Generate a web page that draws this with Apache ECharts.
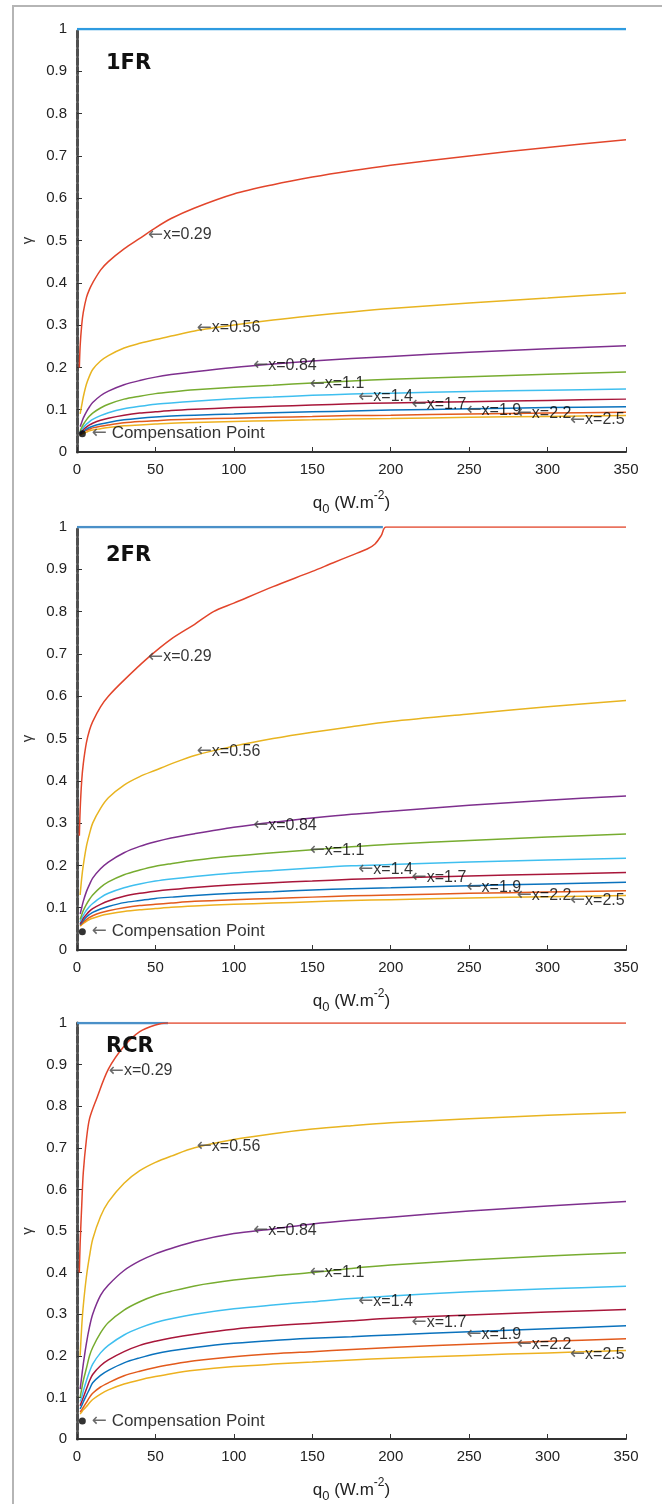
<!DOCTYPE html>
<html><head><meta charset="utf-8">
<script src="https://cdn.jsdelivr.net/npm/echarts@6/dist/echarts.min.js"></script>
<style>html,body{margin:0;padding:0;background:#fff}#c{width:662px;height:1504px}</style>
</head><body><div id="c"></div>
<script>
// ---------- data ----------
const panelNames = ['1FR', '2FR', 'RCR'];
const curveNames = ['x=0.29', 'x=0.56', 'x=0.84', 'x=1.1', 'x=1.4', 'x=1.7', 'x=1.9', 'x=2.2', 'x=2.5'];
const curveColors = ['#e2452b', '#e8b420', '#7e2f8e', '#77ac30', '#3fbfef', '#a8163a', '#0a72bd', '#e25a1c', '#edb120'];
const limitColors = ['#2f9be0', '#4a90c8', '#4a90c8'];
const xTicks = [0, 50, 100, 150, 200, 250, 300, 350];
const yTickLabels = ['0', '0.1', '0.2', '0.3', '0.4', '0.5', '0.6', '0.7', '0.8', '0.9', '1'];
const qPts = [2, 3, 4, 6, 8, 10, 15, 20, 30, 40, 50, 60, 75, 100, 125, 150, 175, 200, 250, 300, 350];

// x=0.29 curves (own q grids)
const q029_1FR = [1.5, 2, 3, 4, 6, 8, 10, 15, 20, 30, 40, 50, 60, 75, 100, 125, 150, 175, 200, 250, 300, 350];
const g029_1FR = [0.2, 0.25, 0.3, 0.33, 0.365, 0.385, 0.40, 0.43, 0.45, 0.48, 0.505, 0.53, 0.552, 0.577, 0.61, 0.632, 0.65, 0.665, 0.678, 0.70, 0.72, 0.738];
const q029_2FR = [1.5, 2, 3, 4, 6, 8, 10, 15, 20, 30, 45, 60, 75, 87, 100, 125, 150, 163, 175, 185, 190, 194, 197, 350];
const g029_2FR = [0.27, 0.33, 0.40, 0.44, 0.49, 0.52, 0.54, 0.575, 0.60, 0.638, 0.69, 0.735, 0.77, 0.80, 0.82, 0.859, 0.895, 0.915, 0.933, 0.948, 0.96, 0.98, 1, 1];
const q029_RCR = [1.5, 2, 3, 4, 6, 8, 12.5, 20, 30, 40, 50, 57, 350];
const g029_RCR = [0.4, 0.47, 0.56, 0.64, 0.72, 0.77, 0.818, 0.889, 0.944, 0.979, 0.995, 1, 1];

// other curves (x=0.56 ... x=2.5) sampled on qPts
const FR1 = [
  [0.09, 0.11, 0.13, 0.16, 0.18, 0.195, 0.215, 0.228, 0.246, 0.257, 0.266, 0.274, 0.286, 0.300, 0.312, 0.322, 0.331, 0.339, 0.352, 0.364, 0.376],
  [0.06, 0.07, 0.08, 0.095, 0.107, 0.117, 0.133, 0.144, 0.159, 0.169, 0.177, 0.183, 0.19, 0.20, 0.208, 0.215, 0.221, 0.226, 0.236, 0.244, 0.251],
  [0.05, 0.058, 0.065, 0.076, 0.085, 0.092, 0.104, 0.113, 0.125, 0.132, 0.138, 0.142, 0.147, 0.153, 0.158, 0.163, 0.168, 0.172, 0.178, 0.184, 0.189],
  [0.047, 0.053, 0.058, 0.066, 0.072, 0.077, 0.086, 0.093, 0.102, 0.108, 0.113, 0.116, 0.12, 0.126, 0.13, 0.134, 0.137, 0.139, 0.143, 0.146, 0.149],
  [0.045, 0.049, 0.053, 0.059, 0.064, 0.068, 0.075, 0.08, 0.087, 0.092, 0.095, 0.098, 0.101, 0.105, 0.108, 0.111, 0.114, 0.116, 0.119, 0.122, 0.125],
  [0.043, 0.046, 0.049, 0.054, 0.058, 0.061, 0.066, 0.07, 0.076, 0.08, 0.083, 0.085, 0.087, 0.09, 0.093, 0.095, 0.097, 0.099, 0.102, 0.105, 0.107],
  [0.041, 0.044, 0.047, 0.051, 0.054, 0.057, 0.061, 0.064, 0.069, 0.072, 0.074, 0.076, 0.078, 0.08, 0.082, 0.084, 0.086, 0.087, 0.09, 0.092, 0.094],
  [0.039, 0.042, 0.044, 0.047, 0.05, 0.052, 0.055, 0.058, 0.062, 0.064, 0.066, 0.068, 0.07, 0.072, 0.074, 0.076, 0.078, 0.079, 0.082, 0.084, 0.086]
];
const FR2 = [
  [0.13, 0.17, 0.2, 0.245, 0.275, 0.3, 0.335, 0.36, 0.39, 0.41, 0.425, 0.44, 0.46, 0.482, 0.5, 0.515, 0.528, 0.54, 0.558, 0.575, 0.59],
  [0.085, 0.1, 0.115, 0.138, 0.155, 0.17, 0.192, 0.208, 0.23, 0.245, 0.256, 0.265, 0.275, 0.29, 0.302, 0.312, 0.321, 0.328, 0.342, 0.354, 0.364],
  [0.072, 0.083, 0.093, 0.108, 0.12, 0.13, 0.148, 0.161, 0.178, 0.189, 0.198, 0.204, 0.212, 0.222, 0.23, 0.237, 0.244, 0.25, 0.259, 0.267, 0.274],
  [0.066, 0.075, 0.082, 0.094, 0.103, 0.11, 0.124, 0.134, 0.147, 0.156, 0.163, 0.168, 0.174, 0.182, 0.188, 0.194, 0.199, 0.202, 0.208, 0.213, 0.217],
  [0.062, 0.069, 0.075, 0.084, 0.092, 0.098, 0.108, 0.116, 0.127, 0.134, 0.139, 0.143, 0.148, 0.154, 0.159, 0.163, 0.167, 0.17, 0.175, 0.179, 0.183],
  [0.06, 0.065, 0.07, 0.078, 0.084, 0.089, 0.097, 0.103, 0.112, 0.117, 0.122, 0.125, 0.129, 0.134, 0.138, 0.142, 0.145, 0.147, 0.152, 0.156, 0.16],
  [0.058, 0.062, 0.066, 0.072, 0.077, 0.081, 0.088, 0.093, 0.1, 0.105, 0.108, 0.111, 0.115, 0.119, 0.122, 0.125, 0.128, 0.13, 0.134, 0.137, 0.14],
  [0.056, 0.06, 0.063, 0.068, 0.072, 0.075, 0.081, 0.085, 0.091, 0.095, 0.098, 0.101, 0.104, 0.108, 0.111, 0.114, 0.117, 0.119, 0.123, 0.126, 0.129]
];
const RCR = [
  [0.2, 0.27, 0.32, 0.39, 0.44, 0.48, 0.535, 0.57, 0.615, 0.645, 0.665, 0.68, 0.70, 0.72, 0.734, 0.745, 0.753, 0.76, 0.77, 0.778, 0.785],
  [0.12, 0.15, 0.18, 0.23, 0.27, 0.30, 0.345, 0.37, 0.405, 0.428, 0.445, 0.458, 0.475, 0.494, 0.505, 0.517, 0.526, 0.533, 0.548, 0.56, 0.571],
  [0.1, 0.12, 0.14, 0.17, 0.2, 0.22, 0.255, 0.28, 0.31, 0.33, 0.345, 0.355, 0.368, 0.382, 0.392, 0.40, 0.41, 0.418, 0.43, 0.44, 0.448],
  [0.09, 0.1, 0.115, 0.14, 0.162, 0.18, 0.207, 0.225, 0.25, 0.267, 0.28, 0.289, 0.30, 0.313, 0.322, 0.33, 0.338, 0.344, 0.354, 0.361, 0.367],
  [0.08, 0.09, 0.1, 0.12, 0.14, 0.155, 0.176, 0.19, 0.21, 0.225, 0.235, 0.243, 0.252, 0.264, 0.272, 0.278, 0.284, 0.29, 0.298, 0.305, 0.311],
  [0.072, 0.08, 0.089, 0.105, 0.12, 0.135, 0.153, 0.165, 0.183, 0.195, 0.205, 0.212, 0.22, 0.23, 0.237, 0.242, 0.246, 0.25, 0.258, 0.265, 0.272],
  [0.065, 0.07, 0.076, 0.088, 0.1, 0.11, 0.125, 0.135, 0.152, 0.163, 0.172, 0.179, 0.188, 0.198, 0.205, 0.21, 0.215, 0.22, 0.228, 0.235, 0.241],
  [0.06, 0.065, 0.07, 0.078, 0.087, 0.095, 0.108, 0.118, 0.132, 0.142, 0.15, 0.157, 0.165, 0.174, 0.18, 0.185, 0.19, 0.194, 0.201, 0.207, 0.213]
];

// curve label anchor points (q, gamma) per panel
const labelQ_1FR = [45, 76, 112, 148, 179, 213, 248, 280, 314];
const labelG_1FR = [0.513, 0.293, 0.205, 0.161, 0.13, 0.113, 0.099, 0.091, 0.076];
const labelQ_2FR = [45, 76, 112, 148, 179, 213, 248, 280, 314];
const labelG_2FR = [0.693, 0.47, 0.295, 0.236, 0.19, 0.171, 0.148, 0.129, 0.117];
const labelQ_RCR = [20, 76, 112, 148, 179, 213, 248, 280, 314];
const labelG_RCR = [0.885, 0.704, 0.501, 0.40, 0.331, 0.281, 0.251, 0.227, 0.203];

const compPoint = [3.4, 0.043];
const limitEnd = [350, 195, 58];

// ---------- layout ----------
const gridTops = [29, 527, 1023];
const titleTops = [48, 540, 1031];
const FONT = "'Liberation Sans', Arial, sans-serif";

const redQ = [q029_1FR, q029_2FR, q029_RCR];
const redG = [g029_1FR, g029_2FR, g029_RCR];
const others = [FR1, FR2, RCR];
const labelQ = [labelQ_1FR, labelQ_2FR, labelQ_RCR];
const labelG = [labelG_1FR, labelG_2FR, labelG_RCR];

const zip = (a, b) => a.map((v, i) => [v, b[i]]);
const arrowRich = {
  ar: { fontFamily: "'DejaVu Sans', sans-serif", fontSize: 18, color: '#444' },
  t: { fontFamily: FONT, fontSize: 16, color: '#000' },
  c: { fontFamily: FONT, fontSize: 17, color: '#000' }
};

const grids = [], xAxes = [], yAxes = [], series = [], titles = [];
for (let p = 0; p < 3; p++) {
  grids.push({ left: 77, width: 549, top: gridTops[p], height: 423, containLabel: false });
  titles.push({ text: panelNames[p], left: 101, top: titleTops[p],
    textStyle: { fontFamily: "'DejaVu Sans', sans-serif", fontWeight: 'bold', fontSize: 21, color: '#111' } });
  xAxes.push({
    gridIndex: p, type: 'value', min: 0, max: 350, interval: 50,
    axisLine: { show: true, onZero: false, lineStyle: { color: '#333', width: 2 } },
    axisTick: { show: true, inside: true, length: 5, lineStyle: { color: '#333', width: 1 } },
    axisLabel: { margin: 10, fontSize: 15, color: '#222', fontFamily: FONT,
      formatter: v => String(xTicks[Math.round(v / 50)]) },
    splitLine: { show: false },
    name: '{a|q}{s|0}{a| (W.m}{p|-2}{a|)}', nameLocation: 'middle', nameGap: 38,
    nameTextStyle: { fontFamily: FONT, color: '#222',
      rich: {
        a: { fontSize: 17, fontFamily: FONT, color: '#222', lineHeight: 26 },
        s: { fontSize: 13, fontFamily: FONT, color: '#222', lineHeight: 13, verticalAlign: 'bottom' },
        p: { fontSize: 12, fontFamily: FONT, color: '#222', lineHeight: 12, verticalAlign: 'top' }
      } }
  });
  yAxes.push({
    gridIndex: p, type: 'value', min: 0, max: 1, interval: 0.1,
    axisLine: { show: true, onZero: false, lineStyle: { color: '#505050', width: 3, type: [7, 2] } },
    axisTick: { show: true, inside: true, length: 5, lineStyle: { color: '#333', width: 1 } },
    axisLabel: { margin: 10, fontSize: 15, color: '#222', fontFamily: FONT,
      formatter: v => yTickLabels[Math.round(v * 10)] },
    splitLine: { show: false },
    name: 'γ', nameLocation: 'middle', nameGap: 40, nameRotate: 90,
    nameTextStyle: { fontSize: 15, color: '#333', fontFamily: FONT }
  });

  // upper limit line at gamma = 1
  series.push({ type: 'line', xAxisIndex: p, yAxisIndex: p, symbol: 'none', silent: true,
    data: [[0, 1], [limitEnd[p], 1]], lineStyle: { color: limitColors[p], width: 2.5 }, z: 2 });
  // other curves
  for (let k = 7; k >= 0; k--) {
    series.push({ type: 'line', xAxisIndex: p, yAxisIndex: p, symbol: 'none', silent: true,
      smooth: 0.3, name: curveNames[k + 1],
      data: zip(qPts, others[p][k]), lineStyle: { color: curveColors[k + 1], width: 1.5 }, z: 3 });
  }
  // x = 0.29 curve
  series.push({ type: 'line', xAxisIndex: p, yAxisIndex: p, symbol: 'none', silent: true,
    smooth: 0.3, name: curveNames[0],
    data: zip(redQ[p], redG[p]), lineStyle: { color: curveColors[0], width: 1.5 }, z: 4 });
  // curve labels
  series.push({ type: 'scatter', xAxisIndex: p, yAxisIndex: p, silent: true, symbolSize: 1,
    itemStyle: { color: 'rgba(0,0,0,0)' }, z: 6,
    data: zip(labelQ[p], labelG[p]),
    label: { show: true, position: 'right', distance: 0, rich: arrowRich,
      formatter: prm => '{ar|←}{t|' + curveNames[prm.dataIndex] + '}' } });
  // compensation point
  series.push({ type: 'scatter', xAxisIndex: p, yAxisIndex: p, silent: true, symbolSize: 7,
    itemStyle: { color: '#000' }, z: 7, data: [compPoint],
    label: { show: true, position: 'right', distance: 6, rich: arrowRich,
      formatter: '{ar|←}{c| Compensation Point}' } });
}

const chart = echarts.init(document.getElementById('c'), null, { renderer: 'canvas' });
chart.setOption({
  animation: false,
  backgroundColor: '#fff',
  title: titles,
  grid: grids, xAxis: xAxes, yAxis: yAxes, series: series,
  graphic: [{ type: 'polyline', silent: true, z: 100,
    shape: { points: [[13, 1504], [13, 6], [662, 6]] },
    style: { stroke: '#b5b5b5', lineWidth: 2, fill: null } }]
});
</script></body></html>
